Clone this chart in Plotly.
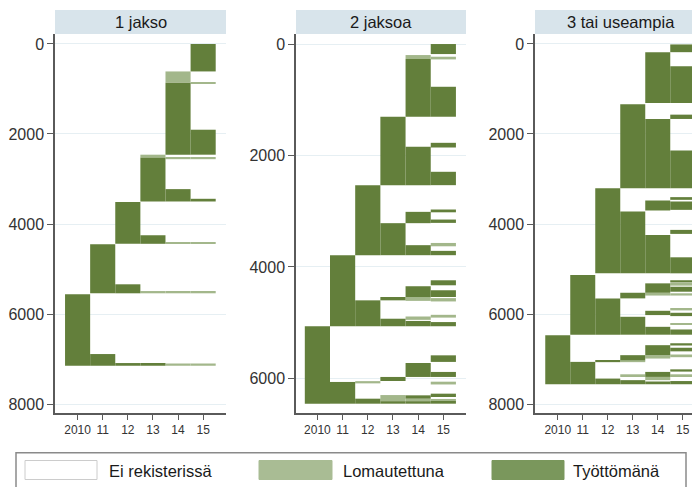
import plotly.graph_objects as go

# The page body has an 8px default margin; the figure is sized so that
# it ends exactly at the 700x487 window edge.
OFF = 8
W, H = 700 - OFF, 487 - OFF

# ---------------- data ----------------
years = [2010, 2011, 2012, 2013, 2014, 2015]
year_labels = ["2010", "11", "12", "13", "14", "15"]
panel_titles = ["1 jakso", "2 jaksoa", "3 tai useampia"]
state_names = {"E": "Ei rekisterissä", "L": "Lomautettuna", "T": "Työttömänä"}

# Panel 1: "1 jakso"  (year, first row, last row, state)
p1_year = [2015, 2014, 2014, 2015, 2015, 2013, 2014, 2015, 2013, 2014, 2015,
           2012, 2013, 2014, 2015, 2011, 2012, 2013, 2014, 2015,
           2010, 2011, 2012, 2013, 2014, 2015]
p1_start = [0, 610, 860, 845, 1905, 2460, 2520, 2520, 2530, 3225, 3440,
            3510, 4250, 4400, 4400, 4450, 5340, 5490, 5500, 5500,
            5560, 6890, 7090, 7110, 7100, 7100]
p1_end = [610, 860, 2460, 875, 2460, 2530, 2560, 2560, 3500, 3500, 3500,
          4440, 4440, 4440, 4440, 5540, 5540, 5540, 5540, 5540,
          7150, 7150, 7150, 7150, 7150, 7150]
p1_state = ["T", "L", "T", "L", "T", "L", "L", "L", "T", "T", "T",
            "T", "T", "L", "L", "T", "T", "L", "L", "L",
            "T", "T", "T", "T", "L", "L"]

# Panel 2: "2 jaksoa"
p2_year = [2015, 2015, 2014, 2014, 2015,
           2013, 2014, 2015, 2015,
           2012, 2013, 2014, 2014, 2015, 2015, 2015, 2015,
           2011, 2012, 2013, 2013, 2014, 2014, 2014, 2014,
           2015, 2015, 2015, 2015, 2015,
           2010, 2011, 2012, 2012, 2013, 2013, 2013,
           2014, 2014, 2014, 2014,
           2015, 2015, 2015, 2015, 2015, 2015]
p2_start = [0, 228, 198, 270, 767,
            1305, 1845, 1773, 2293,
            2533, 3215, 3012, 3610, 2970, 3150, 3570, 3712,
            3790, 4600, 4540, 4930, 4347, 4540, 4890, 4970,
            4240, 4419, 4560, 4860, 4990,
            5065, 6065, 6050, 6365, 5975, 6300, 6410,
            5725, 6305, 6365, 6410,
            5587, 5885, 6060, 6275, 6370, 6420]
p2_end = [180, 276, 270, 1305, 1305,
          2533, 2533, 1857, 2533,
          3790, 3790, 3215, 3790, 3020, 3210, 3630, 3790,
          5065, 5065, 4600, 5065, 4540, 4610, 4950, 5065,
          4330, 4540, 4620, 4910, 5065,
          6455, 6455, 6090, 6455, 6048, 6410, 6455,
          5975, 6365, 6410, 6455,
          5705, 5975, 6110, 6335, 6410, 6455]
p2_state = ["T", "L", "L", "T", "T",
            "T", "T", "T", "T",
            "T", "T", "T", "T", "T", "T", "L", "T",
            "T", "T", "T", "T", "T", "L", "L", "T",
            "T", "T", "L", "L", "T",
            "T", "T", "L", "T", "T", "L", "T",
            "T", "T", "L", "T",
            "T", "T", "L", "T", "L", "T"]

# Panel 3: "3 tai useampia"
p3_year = [2015, 2014, 2015,
           2013, 2014, 2015, 2015,
           2012, 2013, 2014, 2014, 2015, 2015, 2015, 2015,
           2011, 2012, 2013, 2013, 2014, 2014, 2014, 2014,
           2015, 2015, 2015, 2015, 2015, 2015, 2015, 2015,
           2010, 2011, 2012, 2012, 2013, 2013, 2013, 2013,
           2014, 2014, 2014, 2014, 2014,
           2015, 2015, 2015, 2015, 2015, 2015]
p3_start = [10, 182, 494,
            1340, 1666, 1570, 2365,
            3203, 3723, 3478, 4243, 3403, 3500, 4131, 4740,
            5134, 5653, 5528, 6062, 5319, 5528, 5929, 6285,
            5250, 5330, 5394, 5540, 5880, 5973, 6200, 6344,
            6470, 7064, 7030, 7435, 6915, 7027, 7340, 7470,
            6693, 6915, 7287, 7398, 7500,
            6650, 6750, 6900, 7230, 7340, 7490]
p3_end = [182, 1310, 1310,
          3203, 3203, 1666, 3203,
          5096, 5096, 3700, 5096, 3463, 3686, 4220, 5096,
          6460, 6460, 5653, 6460, 5528, 5590, 6024, 6460,
          5300, 5370, 5505, 5590, 5920, 6047, 6240, 6460,
          7561, 7561, 7070, 7561, 7027, 7070, 7400, 7561,
          6915, 6990, 7398, 7470, 7561,
          6700, 6830, 6960, 7280, 7400, 7561]
p3_state = ["T", "T", "T",
            "T", "T", "T", "T",
            "T", "T", "T", "T", "T", "T", "T", "T",
            "T", "T", "T", "T", "T", "L", "T", "T",
            "T", "L", "T", "L", "L", "T", "L", "T",
            "T", "T", "T", "T", "T", "L", "L", "T",
            "T", "L", "T", "L", "T",
            "T", "T", "L", "T", "L", "T"]

y_ticks_1 = [0, 2000, 4000, 6000, 8000]
y_ticks_2 = [0, 2000, 4000, 6000]
y_ticks_3 = [0, 2000, 4000, 6000, 8000]

# ---------------- style ----------------
DARK = "#637f3b"
LIGHT = "#a3b78b"
LEG_DARK = "#7a975c"
LEG_LIGHT = "#a9bc94"
STRIP = "#d8e4eb"
AXIS = "#5a5a5a"
GRID = "#e6eff3"
FONT = "Liberation Sans, Arial, sans-serif"
colors = {"T": DARK, "L": LIGHT}

panels = [
    (p1_year, p1_start, p1_end, p1_state, y_ticks_1),
    (p2_year, p2_start, p2_end, p2_state, y_ticks_2),
    (p3_year, p3_start, p3_end, p3_state, y_ticks_3),
]

# pixel geometry (in reference-image pixels)
x_dom_px = [(55, 226), (296, 466), (535, 700)]
x_ranges = [(2009.10, 2015.91), (2009.15, 2015.90), (2009.09, 2015.69)]
y_ranges = [(8200, -222), (6622, -180), (8200, -222)]
plot_top, plot_bot = 34, 413

def fx(px):
    return (px - OFF) / W

def fy(py):
    return 1 - (py - OFF) / H

fig = go.Figure()

for i, (yr, st, en, sta, yt) in enumerate(panels):
    suffix = "" if i == 0 else str(i + 1)
    for code in ["L", "T"]:
        idx = [k for k in range(len(yr)) if sta[k] == code]
        fig.add_trace(go.Bar(
            x=[yr[k] for k in idx],
            y=[en[k] - st[k] for k in idx],
            base=[st[k] for k in idx],
            width=1.0,
            marker=dict(color=colors[code], line=dict(width=0)),
            name=state_names[code],
            showlegend=False,
            hoverinfo="skip",
            xaxis="x" + suffix,
            yaxis="y" + suffix,
        ))
    x0, x1 = x_dom_px[i]
    fig.layout["xaxis" + suffix] = dict(
        domain=[fx(x0), min(1.0, fx(x1))],
        range=list(x_ranges[i]),
        anchor="y" + suffix,
        tickmode="array", tickvals=years, ticktext=year_labels,
        ticks="outside", ticklen=5, tickwidth=1.2, tickcolor=AXIS,
        showline=True, linecolor=AXIS, linewidth=1.5,
        showgrid=False, zeroline=False,
        tickfont=dict(size=12, color="#333333", family=FONT),
        fixedrange=True,
    )
    fig.layout["yaxis" + suffix] = dict(
        domain=[fy(plot_bot), fy(plot_top)],
        range=list(y_ranges[i]),
        anchor="x" + suffix,
        tickmode="array", tickvals=yt, ticktext=[str(v) for v in yt],
        ticks="outside", ticklen=6, tickwidth=1.2, tickcolor=AXIS,
        showline=True, linecolor=AXIS, linewidth=1.5,
        showgrid=True, gridcolor=GRID, gridwidth=1,
        zeroline=False,
        tickfont=dict(size=16, color="#333333", family=FONT),
        fixedrange=True,
    )

shapes = []
annotations = []
# strip headers
for i, title in enumerate(panel_titles):
    x0, x1 = x_dom_px[i]
    shapes.append(dict(type="rect", xref="paper", yref="paper",
                       x0=fx(x0), x1=fx(x1 + (6 if i == 2 else 0)),
                       y0=fy(34), y1=fy(10),
                       fillcolor=STRIP, line=dict(width=0), layer="below"))
    annotations.append(dict(xref="paper", yref="paper",
                            x=fx((x0 + x1) / 2 + (3 if i == 2 else 0)), y=fy(22),
                            text=title, showarrow=False,
                            font=dict(size=16.5, color="#1a1a1a", family=FONT),
                            xanchor="center", yanchor="middle"))

# legend box
shapes.append(dict(type="rect", xref="paper", yref="paper",
                   x0=fx(16), x1=fx(686), y0=fy(492), y1=fy(452.7),
                   fillcolor="white", line=dict(color="#8a8a8a", width=1.5)))
legend_items = [
    ("E", 25, 97, 107, "white", "#cccccc"),
    ("L", 259, 332, 341, LEG_LIGHT, LEG_LIGHT),
    ("T", 492, 564, 571, LEG_DARK, LEG_DARK),
]
for code, sx0, sx1, tx, fill, edge in legend_items:
    shapes.append(dict(type="rect", xref="paper", yref="paper",
                       x0=fx(sx0), x1=fx(sx1), y0=fy(479.5), y1=fy(460.5),
                       fillcolor=fill, line=dict(color=edge, width=1)))
    annotations.append(dict(xref="paper", yref="paper",
                            x=fx(tx), y=fy(470.5), text=state_names[code],
                            showarrow=False, xanchor="left", yanchor="middle",
                            font=dict(size=16.5, color="#1a1a1a", family=FONT)))

fig.update_layout(
    width=W, height=H,
    margin=dict(l=0, r=0, t=0, b=0),
    paper_bgcolor="white", plot_bgcolor="white",
    barmode="overlay",
    showlegend=False,
    shapes=shapes,
    annotations=annotations,
    font=dict(family=FONT),
)

fig.write_html("out.html")
